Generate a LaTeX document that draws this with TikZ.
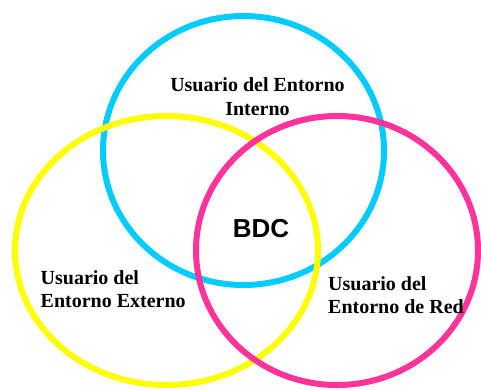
\documentclass[tikz,border=0pt]{standalone}
\usepackage{fontspec}
\setmainfont{Liberation Serif}
\setsansfont{Liberation Sans}
\definecolor{vcyan}{HTML}{00CCFF}
\definecolor{vyellow}{HTML}{FFFF00}
\definecolor{vmagenta}{HTML}{FF3399}
\begin{document}
\begin{tikzpicture}[x=1pt,y=-1pt,
  ring/.style={line width=6pt},
  lbl/.style={font=\fontsize{20}{23.5}\selectfont\bfseries, inner sep=0pt, align=left}]
\useasboundingbox (0,0) rectangle (481,389);
\draw[ring, vcyan] (243.5,150.5) ellipse [x radius=140.5, y radius=134.5];
\draw[ring, vyellow] (166.5,250.5) ellipse [x radius=151.5, y radius=134.5];
\draw[ring, vmagenta] (337,250.5) ellipse [x radius=141, y radius=134.5];
\node[lbl, align=center] (interno) at (257.5,96.5) {Usuario del Entorno\\Interno};
\node[lbl, anchor=west] (externo) at (40.5,289) {Usuario del\\Entorno Externo};
\node[lbl, anchor=west] (red) at (328,295) {Usuario del\\Entorno de Red};
\node[font=\sffamily\bfseries\fontsize{26}{30}\selectfont, inner sep=0pt] (bdc) at (261,228.5) {BDC};
\end{tikzpicture}
\end{document}
